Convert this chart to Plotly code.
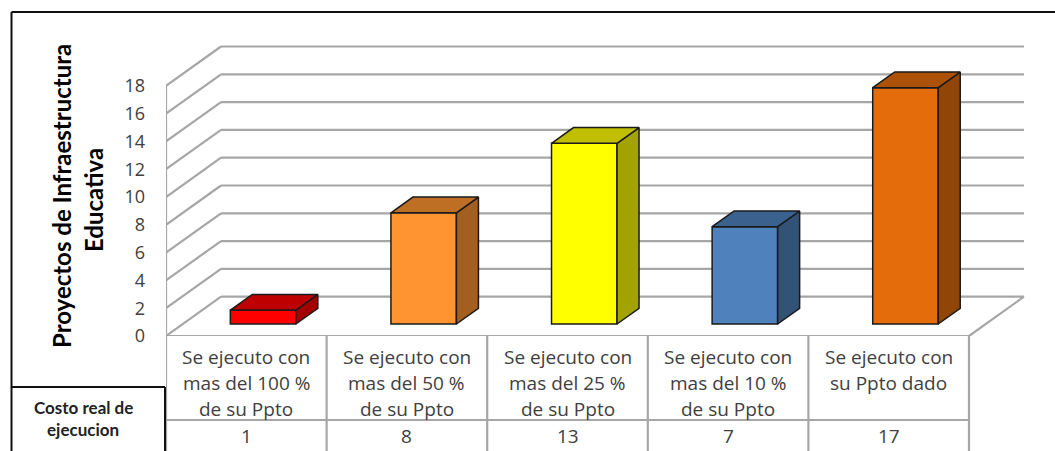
import plotly.graph_objects as go

# ---- data ----
categories = ["Se ejecuto con\nmas del 100 %\nde su Ppto",
              "Se ejecuto con\nmas del 50 %\nde su Ppto",
              "Se ejecuto con\nmas del 25 %\nde su Ppto",
              "Se ejecuto con\nmas del 10 %\nde su Ppto",
              "Se ejecuto con\nsu Ppto dado"]
values = [1, 8, 13, 7, 17]
front_colors = ["#FF0000", "#FF9430", "#FFFF00", "#4F81BD", "#E46C0A"]
top_colors = ["#BF0000", "#BF6F24", "#BFBF00", "#3B618E", "#AC5108"]
side_colors = ["#A30000", "#A35F1F", "#A3A300", "#325276", "#914507"]
y_ticks = list(range(0, 19, 2))
y_title_lines = ["Proyectos de Infraestructura", "Educativa"]
row_title_lines = ["Costo real de", "ejecucion"]

# ---- geometry, as style constants ----
W, H = 1055, 451
ML, MB, MT = 166, 115, 20
PX_X = 160.6   # pixels per category
PX_Y = 13.9    # pixels per value unit
WALL_X = 55 / PX_X
WALL_Y = 39.3 / PX_Y
BAR_WIDTH = 65.5 / PX_X
BAR_START = 0.305   # fraction of floor depth at which bars' front stands
BAR_DEPTH = 0.40    # fraction of floor depth a bar occupies
GRID = "#A6A6A6"
TXT = "#404040"
FONT = "Open Sans"
BFONT = "Lato"
PW, PH = W - ML, H - MB - MT
n = len(values)


def fx(p):
    return (p - ML) / PW


def fy(p):
    return (H - MB - p) / PH


fig = go.Figure()

# front faces
lift = BAR_START * WALL_Y
xc = [i + 0.5 + BAR_START * WALL_X for i in range(n)]
fig.add_trace(go.Bar(x=xc, y=values, base=[lift] * n, width=BAR_WIDTH,
                     marker=dict(color=front_colors, line=dict(color="#1a1a1a", width=1.5)),
                     showlegend=False, hoverinfo="skip"))

# side and top faces
dx, dy = BAR_DEPTH * WALL_X, BAR_DEPTH * WALL_Y
for i, v in enumerate(values):
    l, r = xc[i] - BAR_WIDTH / 2, xc[i] + BAR_WIDTH / 2
    b, t = lift, lift + v
    fig.add_trace(go.Scatter(x=[r, r + dx, r + dx, r, r], y=[b, b + dy, t + dy, t, b],
                             mode="lines", fill="toself", fillcolor=side_colors[i],
                             line=dict(color="#1a1a1a", width=1.5),
                             showlegend=False, hoverinfo="skip"))
    fig.add_trace(go.Scatter(x=[l, l + dx, r + dx, r, l], y=[t, t + dy, t + dy, t, t],
                             mode="lines", fill="toself", fillcolor=top_colors[i],
                             line=dict(color="#1a1a1a", width=1.5),
                             showlegend=False, hoverinfo="skip"))

shapes = []


def line(x0, y0, x1, y1, color=GRID, width=2.2, xref="x", yref="y", layer="below"):
    shapes.append(dict(type="line", x0=x0, y0=y0, x1=x1, y1=y1, xref=xref, yref=yref,
                       layer=layer, line=dict(color=color, width=width)))


# walls and floor
for v in y_ticks:
    line(0, v, WALL_X, v + WALL_Y)
    line(WALL_X, v + WALL_Y, n + WALL_X, v + WALL_Y)
line(0, 0, 0, y_ticks[-1])
line(0, 0, n, 0)
line(n, 0, n + WALL_X, WALL_Y)

# table grid
for c in range(n + 1):
    line(c, 0, c, fy(H), xref="x", yref="paper")
line(0, fy(420), n, fy(420), xref="x", yref="paper")

# black frame pieces
for (a, b, c, d) in [(11.5, 12, 11.5, H), (11.5, 12, W, 12),
                     (11.5, 387, 165, 387), (165, 387, 165, H)]:
    line(fx(a), fy(b), fx(c), fy(d), "#111111", 2, "paper", "paper", "above")

ann = []


def text(x, y, s, xref="x", size=19, font=FONT, color=TXT, bold=False, angle=0):
    ann.append(dict(x=x, y=y, xref=xref, yref="paper", text=f"<b>{s}</b>" if bold else s,
                    showarrow=False, textangle=angle, xanchor="center", yanchor="middle",
                    font=dict(family=font, size=size, color=color)))


line_ys = [357, 383, 409]
for i, c in enumerate(categories):
    for j, part in enumerate(c.split("\n")):
        text(i + 0.5, fy(line_ys[j]), part)
    text(i + 0.5, fy(436), str(values[i]))

text(fx(61), fy(196), y_title_lines[0], "paper", 24, BFONT, "#000000", True, -90)
text(fx(94), fy(200), y_title_lines[1], "paper", 24, BFONT, "#000000", True, -90)
text(fx(83), fy(408), row_title_lines[0], "paper", 17, BFONT, "#222222", True)
text(fx(83), fy(429), row_title_lines[1], "paper", 17, BFONT, "#222222", True)

fig.update_layout(
    width=W, height=H, paper_bgcolor="white", plot_bgcolor="white",
    margin=dict(l=ML, r=0, t=MT, b=MB, pad=0), shapes=shapes, annotations=ann, showlegend=False,
    xaxis=dict(range=[0, PW / PX_X], showgrid=False, zeroline=False, showticklabels=False,
               ticks="", showline=False),
    yaxis=dict(range=[0, PH / PX_Y], tickmode="array", tickvals=y_ticks,
               ticktext=[str(v) for v in y_ticks], showgrid=False, zeroline=False, ticks="",
               showline=False, ticklabelstandoff=20,
               tickfont=dict(family=FONT, size=18, color=TXT)),
)
fig.write_html("out.html", config={"displayModeBar": False},
               post_script="document.body.style.margin='0';document.body.style.overflow='hidden';")
